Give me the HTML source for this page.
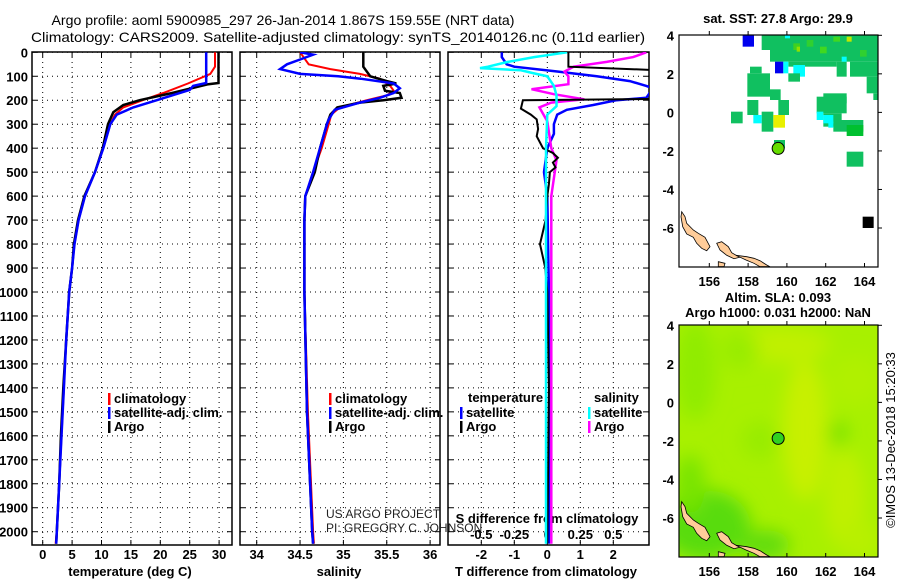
<!DOCTYPE html>
<html><head><meta charset="utf-8"><style>
html,body{margin:0;padding:0;background:#fff;}
svg{display:block;font-family:"Liberation Sans",sans-serif;}
.t{font-weight:bold;font-size:13px;fill:#000;}
</style></head><body>
<svg id="s" width="900" height="580" viewBox="0 0 900 580" xmlns="http://www.w3.org/2000/svg">
<defs>
<filter id="blur" x="-20%" y="-20%" width="140%" height="140%"><feGaussianBlur stdDeviation="9"/></filter>
<clipPath id="c1"><rect x="32" y="52" width="200" height="493"/></clipPath>
<clipPath id="c2"><rect x="240" y="52" width="200" height="493"/></clipPath>
<clipPath id="c3"><rect x="448" y="52" width="201" height="493"/></clipPath>
<clipPath id="cm1"><rect x="679" y="35" width="199" height="232"/></clipPath>
<clipPath id="cm2"><rect x="679" y="325" width="199" height="232"/></clipPath>
</defs>
<text x="283" y="25" font-size="14" textLength="463" lengthAdjust="spacingAndGlyphs" text-anchor="middle">Argo profile: aoml 5900985_297 26-Jan-2014 1.867S 159.55E (NRT data)</text>
<text x="338" y="42" font-size="14" textLength="614" lengthAdjust="spacingAndGlyphs" text-anchor="middle">Climatology: CARS2009. Satellite-adjusted climatology: synTS_20140126.nc (0.11d earlier)</text>
<g id="g"></g>
</svg>
<script>
// ---- data ----
const depthTicks=[0,100,200,300,400,500,600,700,800,900,1000,1100,1200,1300,1400,1500,1600,1700,1800,1900,2000];
const tempTicks=[0,5,10,15,20,25,30];
const salTicks=[34,34.5,35,35.5,36];
const salTickLabels=["34","34.5","35","35.5","36"];
const tdTicks=[-2,-1,0,1,2];
const sdTicks=[-0.5,-0.25,0,0.25,0.5];
const sdTickLabels=["-0.5","-0.25","0","0.25","0.5"];

const argoTDepth=[0,128,134,170,200,220,250,300,400,500,600,700,800,900,1000,1200,1400,1600,1800,2000,2050];
const argoTVal=[29.9,29.9,28.0,22.0,16.5,13.7,12.0,11.1,10.2,8.9,7.1,6.0,5.3,5.0,4.5,4.0,3.5,3.1,2.8,2.4,2.3];
const climTDepth=[0,60,90,130,170,200,230,260,300,400,500,600,700,800,900,1000,1200,1400,1600,1800,2000,2050];
const climTVal=[29.3,29.3,28.5,24.7,20.5,17.0,13.7,12.3,11.5,10.3,8.9,7.2,6.1,5.4,5.0,4.5,4.0,3.6,3.2,2.8,2.4,2.2];
const satTDepth=[0,128,140,157,200,230,260,300,400,500,600,700,800,900,1000,1200,1400,1600,1800,2000,2050];
const satTVal=[27.8,27.8,25.6,25.0,19.4,15.4,12.6,11.5,10.3,8.9,7.2,6.1,5.4,5.0,4.5,4.0,3.6,3.2,2.8,2.4,2.3];

const argoSDepth=[0,60,100,120,130,140,160,170,190,200,210,230,260,300,400,500,600,700,1000,1500,2000,2050];
const argoSVal=[35.23,35.23,35.31,35.5,35.61,35.46,35.48,35.65,35.67,35.46,35.19,34.93,34.85,34.81,34.73,34.67,34.56,34.55,34.55,34.58,34.64,34.65];
const climSDepth=[0,20,50,70,90,110,140,160,180,200,230,260,300,400,500,600,700,1000,1500,2000,2050];
const climSVal=[34.5,34.54,34.6,34.85,35.19,35.42,35.54,35.58,35.5,35.27,34.96,34.86,34.83,34.75,34.65,34.56,34.55,34.55,34.59,34.65,34.66];
const satSDepth=[0,10,30,50,70,90,100,110,130,150,170,190,210,240,280,300,400,500,600,700,1000,1500,2000,2050];
const satSVal=[34.5,34.65,34.5,34.35,34.27,34.5,34.94,35.2,35.58,35.65,35.58,35.42,35.19,34.9,34.83,34.81,34.73,34.65,34.56,34.55,34.55,34.58,34.64,34.65];

const argoTdDepth=[0,60,74,110,150,195,200,235,260,280,320,350,400,420,440,460,480,500,550,600,700,800,900,1000,1400,2050];
const argoTdVal=[0.64,0.64,3.2,3.2,3.2,3.2,-0.74,-0.8,-0.5,-0.32,-0.28,-0.32,-0.13,0.17,0.32,0.17,0.25,0.08,0.05,0.0,-0.05,-0.22,-0.06,0.0,0.05,0.0];
const satTdDepth=[0,20,50,60,80,100,120,140,150,190,200,220,240,260,300,340,400,500,600,1000,1500,2050];
const satTdVal=[-1.38,-1.38,-1.23,-1.0,0.3,1.5,2.5,3.0,3.2,3.0,2.1,1.39,0.59,0.3,0.2,0.2,0.0,-0.1,0.0,0.05,0.1,0.05];
const satSdDepth=[0,20,40,60,66,75,88,100,140,180,225,260,400,1000,2050];
const satSdVal=[0.15,-0.1,-0.3,-0.45,-0.51,-0.2,-0.1,0.0,0.05,0.07,0.07,0.0,-0.01,-0.01,-0.01];
const argoSdDepth=[0,20,40,60,80,100,133,154,175,196,210,230,288,400,450,600,1000,2050];
const argoSdVal=[0.75,0.65,0.45,0.2,0.13,0.16,0.16,-0.12,0.05,0.28,0.03,-0.06,0.0,0.03,0.07,0.03,0.03,0.03];

// ---- scales ----
const Y=d=>52.3+d*0.2397;
const XT=v=>42.7+v*5.88;
const XS=v=>256.7+(v-34)*86.7;
const XTd=v=>547.3+v*33;
const XSd=v=>547.3+v*132;
const NS="http://www.w3.org/2000/svg";
const G=document.getElementById('g');
function el(tag,attrs,parent,txt){const e=document.createElementNS(NS,tag);for(const k in attrs)e.setAttribute(k,attrs[k]);if(txt!==undefined)e.textContent=txt;(parent||G).appendChild(e);return e;}

function panel(x0,x1,name){
  const g=el('g',{});
  
  
  return g;
}
function grid(g,x0,x1,xs){
  depthTicks.forEach(d=>{el('line',{x1:x0,x2:x1,y1:Y(d),y2:Y(d),stroke:'#000','stroke-width':1,'stroke-dasharray':'1,4'},g);
    el('line',{x1:x0,x2:x0+5,y1:Y(d),y2:Y(d),stroke:'#000'},g);el('line',{x1:x1-5,x2:x1,y1:Y(d),y2:Y(d),stroke:'#000'},g);});
  xs.forEach(x=>{el('line',{x1:x,x2:x,y1:52,y2:545,stroke:'#000','stroke-width':1,'stroke-dasharray':'1,4'},g);
    el('line',{x1:x,x2:x,y1:540,y2:545,stroke:'#000'},g);el('line',{x1:x,x2:x,y1:52,y2:57,stroke:'#000'},g);});
  el('rect',{x:x0,y:52,width:x1-x0,height:493,fill:'none',stroke:'#000','stroke-width':1.5},g);
}
function line(g,xs,ys,fx,col,w,clip,name){
  const pts=xs.map((v,i)=>fx(v).toFixed(1)+','+Y(ys[i]).toFixed(1)).join(' ');
  const p=el('polyline',{points:pts,fill:'none',stroke:col,'stroke-width':w,'clip-path':'url(#'+clip+')'},g);
  
  
}
function legend(g,x,y,col,label,name){
  el('rect',{x:x,y:y-10,width:2.5,height:12,fill:col},g);
  const t=el('text',{x:x+6,y:y,class:'t'},g,label);
  
  
}

const yl=el('g',{});


depthTicks.forEach(d=>el('text',{x:28,y:Y(d)+5,class:'t','text-anchor':'end'},yl,String(d)));

const p1=panel(32,232,'temperature-panel');
grid(p1,32,232,tempTicks.map(XT));
tempTicks.forEach(v=>el('text',{x:XT(v),y:559,class:'t','text-anchor':'middle'},p1,String(v)));
el('text',{x:130,y:576,class:'t','text-anchor':'middle'},p1,'temperature (deg C)');
line(p1,climTVal,climTDepth,XT,'#f00',2,'c1','temperature-climatology-line');
line(p1,argoTVal,argoTDepth,XT,'#000',2.5,'c1','temperature-argo-line');
line(p1,satTVal,satTDepth,XT,'#00f',2.5,'c1','temperature-satellite-line');
legend(p1,108,403,'#f00','climatology','legend-climatology');
legend(p1,108,417,'#00f','satellite-adj. clim.','legend-satellite-adj');
legend(p1,108,431,'#000','Argo','legend-argo');

const p2=panel(240,440,'salinity-panel');
grid(p2,240,440,salTicks.map(XS));
salTicks.forEach((v,i)=>el('text',{x:XS(v),y:559,class:'t','text-anchor':'middle'},p2,salTickLabels[i]));
el('text',{x:339,y:576,class:'t','text-anchor':'middle'},p2,'salinity');
line(p2,climSVal,climSDepth,XS,'#f00',2,'c2','salinity-climatology-line');
line(p2,argoSVal,argoSDepth,XS,'#000',2.5,'c2','salinity-argo-line');
line(p2,satSVal,satSDepth,XS,'#00f',2.5,'c2','salinity-satellite-line');
legend(p2,329,403,'#f00','climatology','legend-climatology-2');
legend(p2,329,417,'#00f','satellite-adj. clim.','legend-satellite-adj-2');
legend(p2,329,431,'#000','Argo','legend-argo-2');
el('text',{x:326,y:518,'font-size':12,fill:'#222'},p2,'US ARGO PROJECT');
el('text',{x:326,y:532,'font-size':12,fill:'#222'},p2,'PI: GREGORY C. JOHNSON');

const p3=panel(448,649,'difference-panel');
grid(p3,448,649,tdTicks.map(XTd));
tdTicks.forEach(v=>el('text',{x:XTd(v),y:559,class:'t','text-anchor':'middle'},p3,String(v)));
sdTicks.forEach((v,i)=>el('text',{x:XSd(v),y:539,class:'t','text-anchor':'middle'},p3,sdTickLabels[i]));
el('text',{x:547,y:523,class:'t','text-anchor':'middle'},p3,'S difference from climatology');
el('text',{x:546,y:576,class:'t','text-anchor':'middle'},p3,'T difference from climatology');
line(p3,satTdVal,satTdDepth,XTd,'#00f',2.5,'c3','t-diff-satellite-line');
line(p3,argoSdVal,argoSdDepth,XSd,'#f0f',2.5,'c3','s-diff-argo-line');
line(p3,argoTdVal,argoTdDepth,XTd,'#000',2,'c3','t-diff-argo-line');
line(p3,satSdVal,satSdDepth,XSd,'#0ff',2.5,'c3','s-diff-satellite-line');
el('text',{x:468,y:402,class:'t'},p3,'temperature');
legend(p3,460,417,'#00f','satellite','legend-t-satellite');
legend(p3,460,431,'#000','Argo','legend-t-argo');
el('text',{x:594,y:402,class:'t'},p3,'salinity');
legend(p3,588,417,'#0ff','satellite','legend-s-satellite');
legend(p3,588,431,'#f0f','Argo','legend-s-argo');

// ---- maps ----
const lonTicks=[156,158,160,162,164];
const latTicks=[4,2,0,-2,-4,-6];
const LX=lon=>709.3+(lon-156)*19.4;
const LY=(lat,off)=>off+37.3+(4-lat)*19.27;
const cells=[[305,105,653,150,'#10c060'],[330,150,653,185,'#10c060'],[385,185,530,200,'#10c060'],[530,185,560,230,'#10c060'],[570,185,653,230,'#10c060'],[620,230,653,280,'#10c060'],[640,280,653,300,'#10c060'],
[345,185,370,220,'#0000ee'],[370,185,385,220,'#00ffff'],[400,195,435,230,'#00ffff'],[385,220,420,245,'#10c060'],
[270,200,305,220,'#10c060'],[262,220,330,290,'#10c060'],[330,268,362,300,'#10c060'],[355,300,387,345,'#10c060'],[262,300,295,345,'#10c060'],[305,335,340,395,'#10c060'],[280,345,305,370,'#00ffff'],[340,345,375,383,'#e8f000'],[213,335,248,370,'#10c060'],[342,420,375,445,'#10c060'],
[470,290,560,340,'#10c060'],[490,280,560,310,'#10c060'],[490,340,545,380,'#10c060'],[520,360,610,395,'#10c060'],[560,375,610,408,'#00c030'],[470,335,490,360,'#00ffff'],[490,345,520,370,'#00ffff'],[505,365,520,383,'#00ffff'],[560,455,610,500,'#10c060'],
[248,105,282,140,'#0000ee'],[608,650,641,684,'#000'],
[400,130,420,150,'#40d020'],[440,120,460,140,'#30d030'],[480,140,500,160,'#40d820'],[560,110,575,125,'#c0e800'],[600,150,620,170,'#30d030'],[410,140,420,155,'#90e000'],[545,170,560,185,'#00ffff'],[375,105,390,115,'#00ffff'],[520,110,540,125,'#40d820']];
const isles=[[[65,635],[75,650],[80,670],[100,690],[115,700],[135,712],[150,740],[140,752],[125,745],[110,730],[100,712],[80,702],[68,680],[63,650]],
[[170,730],[185,725],[205,740],[215,758],[232,768],[245,770],[222,776],[200,766],[180,750]],
[[228,766],[260,770],[282,775],[300,782],[320,795],[330,800],[300,800],[282,790],[258,780]],
[[175,785],[195,790],[192,800],[175,800]]];
function map(off,name,clip,bottom){
  const g=el('g',{});
  
  
  const gc=el('g',{'clip-path':'url(#'+clip+')'},g);
  if(bottom){
    el('rect',{x:679,y:off+35,width:199,height:232,fill:'#a8f000'},gc);
    const bl=el('g',{filter:'url(#blur)'},gc);
    [[805,off+140,22,70,'#c8f000'],[780,off+55,50,18,'#c0f000'],[845,off+210,20,50,'#c0f000'],[695,off+80,20,50,'#90ec00'],[760,off+150,18,18,'#98ec00'],
     [705,off+235,45,35,'#58dc10'],[690,off+195,15,30,'#78e400'],[838,off+143,9,11,'#70e000'],[740,off+60,18,18,'#98ec00'],[765,off+255,25,15,'#60dc10'],[855,off+90,25,25,'#b0f000'],[860,off+250,20,20,'#b8f000']]
     .forEach(b=>el('ellipse',{cx:b[0],cy:b[1],rx:b[2],ry:b[3],fill:b[4]},bl));
  }else{
    cells.forEach(c=>el('rect',{x:660+c[0]/3,y:c[1]/3+off,width:(c[2]-c[0])/3,height:(c[3]-c[1])/3,fill:c[4]},gc));
  }
  isles.forEach(p=>el('polygon',{points:p.map(q=>(660+q[0]/3).toFixed(1)+','+(q[1]/3+off).toFixed(1)).join(' '),fill:'#ffcc99',stroke:'#000','stroke-width':0.8},gc));
  el('circle',{cx:LX(159.55),cy:LY(-1.867,off-2),r:6,fill:bottom?'#30d020':'#66dd00',stroke:'#000','stroke-width':1},gc);
  el('rect',{x:679,y:off+35,width:199,height:232,fill:'none',stroke:'#000','stroke-width':1.2},g);
  lonTicks.forEach(v=>{el('line',{x1:LX(v),x2:LX(v),y1:off+267,y2:off+263,stroke:'#000'},g);el('line',{x1:LX(v),x2:LX(v),y1:off+31,y2:off+35,stroke:'#000'},g);
    el('text',{x:LX(v),y:off+286,class:'t','text-anchor':'middle'},g,String(v));});
  latTicks.forEach(v=>{el('line',{x1:878,x2:882,y1:LY(v,off-2),y2:LY(v,off-2),stroke:'#000'},g);
    el('text',{x:674,y:LY(v,off-2)+5,class:'t','text-anchor':'end'},g,String(v));});
  return g;
}
map(0,'sst-map','cm1',false);
map(290,'sla-map','cm2',true);
el('text',{x:778,y:23,class:'t','text-anchor':'middle'},null,'sat. SST: 27.8 Argo: 29.9');
el('text',{x:778,y:302,class:'t','text-anchor':'middle'},null,'Altim. SLA: 0.093');
el('text',{x:778,y:317,class:'t','text-anchor':'middle'},null,'Argo h1000: 0.031 h2000: NaN');
el('text',{x:0,y:0,'font-size':13,transform:'translate(895,440) rotate(-90)','text-anchor':'middle'},null,'©IMOS 13-Dec-2018 15:20:33');
</script>
</body></html>
